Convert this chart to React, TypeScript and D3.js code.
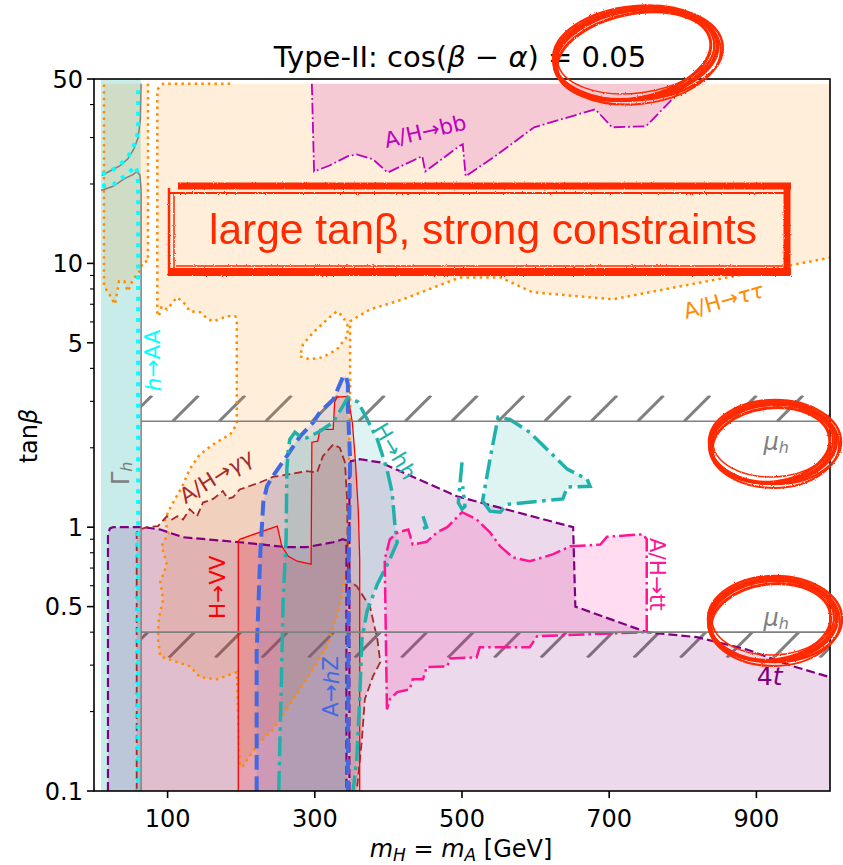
import React from 'react';
import * as d3 from 'd3';

type P = [number, number];

// ---------------- axis data ----------------
const xTickValues = [100, 300, 500, 700, 900];
const yTickValues = [0.1, 0.5, 1, 5, 10, 50];
const yTickLabels = ['0.1', '0.5', '1', '5', '10', '50'];
const yMinorValues = [0.2, 0.3, 0.4, 0.6, 0.7, 0.8, 0.9, 2, 3, 4, 6, 7, 8, 9, 20, 30, 40];

// ---------------- constraint contours [mH=mA (GeV), tanβ] ----------------
const gammaStrip: [number, number] = [9.5, 63.5];
const hAAUpper: P[] = [[11, 21.8], [24, 22.5], [35, 23.6], [46, 25.3], [53, 27.4], [58, 29.8], [60, 32], [60, 48]];
const hAALower: P[] = [[11, 19.6], [26, 19.9], [38, 21.1], [46, 21.9], [56, 23.4], [59, 22.3], [60, 19.8], [60, 0.1]];
const gammaHUpper: P[] = [[10.5, 21.5], [21.7, 22.4], [35, 23.4], [46, 24.9], [54.5, 27.3], [60, 30], [63, 35.2], [64, 48]];
const gammaHLower: P[] = [[9.5, 18.9], [26, 19.6], [42, 21.0], [53, 21.7], [58, 22.3], [62.5, 21.6], [64, 19.0], [64, 0.1]];

const tautauMain: P[] = [[185, 48], [94, 48], [86, 45.7], [86, 6.5], [88, 6.3], [92, 6.88], [99, 6.69], [113, 7.44], [124, 7.0], [130, 6.59], [144, 6.53], [155, 6.14], [162, 6.03], [181, 6.3], [192, 6.3], [194, 6.14], [194, 2.46], [185, 2.25], [162, 2.06], [144, 1.89], [130, 1.66], [120, 1.43], [106, 1.22], [96, 1.07], [101, 0.95], [92, 0.85], [99, 0.72], [90, 0.62], [94, 0.533], [88, 0.45], [87, 0.376], [90, 0.324], [130, 0.297], [144, 0.27], [167, 0.265], [194, 0.282], [198, 0.124], [202, 0.124], [221, 0.148], [243, 0.171], [262, 0.204], [289, 0.265], [317, 0.354], [334, 0.5], [345, 0.736], [346, 1.52], [348, 3.05], [348, 6.03], [357, 6.25], [375, 6.69], [420, 7.31], [497, 8.85], [552, 8.85], [596, 7.77], [705, 7.31], [868, 8.93], [1000, 10.5]];
const tautauMainClose: P[] = [[1000, 48]];
const tautauHole: P[] = [[280, 4.44], [293, 4.33], [311, 4.41], [330, 4.72], [344, 5.29], [345, 5.77], [338, 6.3], [330, 6.58], [317, 6.14], [298, 5.48], [284, 4.93]];
const tautauLeft: P[] = [[73.4, 48], [73.4, 10.2], [66.6, 10.1], [61, 9.25], [53, 8.7], [46, 7.83], [41, 8.55], [34, 8.55], [28.5, 7.0], [21.7, 7.57], [13.6, 8.19], [13.6, 48]];

const bbRegion: P[] = [[296, 48], [299, 22.3], [320, 23.5], [345, 25.5], [357, 25.9], [379, 24.8], [399, 22.1], [446, 25.5], [450, 22.3], [496, 27.8], [501, 28.3], [505, 21.4], [545, 25.5], [598, 32.8], [681, 38.4], [704, 32.8], [750, 33.1], [806, 48]];

const fourTLeft: P[] = [[19, 0.1], [19, 0.94], [21.7, 0.99], [26, 1.0], [67, 1.0], [90, 0.98], [121, 0.916], [198, 0.877], [262, 0.84], [289, 0.84], [325, 0.877], [338, 0.9], [343, 0.89], [343, 0.1]];
const fourTRight: P[] = [[347, 0.1], [347, 1.7], [349, 1.78], [361, 1.81], [389, 1.76], [493, 1.31], [651, 1.0], [654, 0.5], [751, 0.4], [819, 0.383], [887, 0.344], [950, 0.297], [1000, 0.27]];
const fourTRightClose: P[] = [[1000, 0.1]];

const hVVRegion: P[] = [[196, 0.1], [196, 0.885], [198, 0.9], [249, 1.01], [255, 0.85], [264, 0.776], [276, 0.743], [295, 0.724], [296, 2.1], [304, 2.12], [307, 2.35], [325, 2.35], [327, 2.98], [330, 3.11], [345, 3.13], [351, 2.5], [355, 1.81], [359, 1.17], [361, 0.756], [361, 0.1]];

const gagaRegion: P[] = [[58, 0.1], [58, 0.956], [62.5, 0.98], [72, 1.0], [87, 1.01], [99, 1.1], [106, 1.07], [113, 1.1], [121, 1.07], [130, 1.17], [140, 1.1], [148, 1.24], [162, 1.28], [175, 1.37], [182, 1.28], [189, 1.3], [198, 1.39], [226, 1.48], [243, 1.55], [266, 1.59], [289, 1.63], [303, 1.61], [311, 1.86], [325, 2.06], [334, 2.0], [341, 1.76], [344, 1.24], [345, 0.635], [357, 0.597], [375, 0.5], [385, 0.376], [389, 0.308], [379, 0.272], [368, 0.223], [364, 0.157], [357, 0.1]];

const hZRegion: P[] = [[221, 0.1], [221, 0.336], [226, 0.8], [230, 1.24], [235, 1.43], [243, 1.56], [262, 1.86], [280, 2.21], [298, 2.5], [307, 2.73], [325, 3.05], [334, 3.48], [338, 3.7], [342, 3.76], [345, 3.48], [345, 2.8], [348, 1.81], [346, 0.756], [345, 0.1]];

const hhMain: P[] = [[251, 0.1], [254, 0.223], [257, 0.533], [261, 0.9], [262, 1.66], [264, 1.97], [266, 2.15], [273, 2.29], [280, 2.21], [289, 2.18], [307, 2.31], [325, 2.5], [338, 2.87], [345, 3.11], [359, 2.98], [371, 2.57], [385, 2.15], [398, 1.66], [405, 1.36], [409, 1.01], [412, 0.876], [402, 0.756], [385, 0.608], [371, 0.48], [364, 0.376], [361, 0.223], [357, 0.132], [352, 0.1]];
const hhLobe: P[] = [[538, 1.15], [528, 1.26], [538, 1.81], [549, 2.61], [565, 2.56], [592, 2.29], [643, 1.66], [670, 1.52], [674, 1.43], [643, 1.42], [637, 1.28], [561, 1.22], [552, 1.14]];
const hhSpike: P[] = [[500, 1.76], [497, 1.43], [495, 1.24], [500, 1.17], [504, 1.2], [501, 1.43]];
const hhHook: P[] = [[447, 1.1], [452, 1.0], [447, 0.99]];

const ttRegion: P[] = [[398, 0.204], [395, 0.756], [402, 0.9], [413, 0.956], [427, 0.98], [429, 0.94], [433, 0.86], [452, 0.88], [466, 0.956], [480, 1.0], [500, 1.14], [520, 1.07], [538, 0.956], [552, 0.846], [569, 0.769], [592, 0.743], [624, 0.79], [647, 0.846], [688, 0.86], [697, 0.92], [746, 0.94], [751, 0.9], [751, 0.4], [602, 0.386], [592, 0.351], [524, 0.351], [520, 0.321], [484, 0.318], [480, 0.297], [452, 0.295], [447, 0.265], [433, 0.265], [429, 0.243], [412, 0.237], [402, 0.223]];

// μ_h bands: [line value, hatch edge]
const muBands: [number, number][] = [[2.52, 3.16], [0.4, 0.32]];
const muStartMass = 64;

const RED = '#ff2a00';

// scribble ellipses: [cx, cy, rx, ry, rotation]
const scribbles: number[][] = [[636, 54, 82, 45, -8], [773, 443, 63, 40, -3], [773, 620, 64, 41, -3]];
const scribbleOffsets: number[][] = [[0, 0, 0, 0, 0, 4], [-2, 2, -4, -3, -4, 3], [2, -1, 3, 2, 3, 2.5], [-1, 1, -2, -1, -2, 2], [1, 2, 2, 3, 2, 2], [0, -2, -3, -4, 1, 1.5]];

export default function App() {
  const x = d3.scaleLinear().domain([0, 1000]).range([94, 830]);
  const y = d3.scaleLog().domain([0.1, 50]).range([791, 79]);
  const line = d3.line<P>().x(d => x(d[0])).y(d => y(d[1]));
  const fillPath = (pts: P[], close: P[] = []) => (line([...pts, ...close]) as string) + 'Z';
  const [x0, x1] = x.range();
  const [yb, yt] = y.range();

  type Reg = { pts: P[]; close?: P[]; color: string; op: number; dash: string; w: number; closed?: boolean; hole?: P[] };
  const regions: Reg[] = [
    { pts: tautauMain, close: tautauMainClose, color: '#ff8c00', op: 0.15, dash: '2.5 4.1', w: 2.5, hole: tautauHole },
    { pts: tautauLeft, color: '#ff8c00', op: 0.15, dash: '2.5 4.1', w: 2.5 },
    { pts: bbRegion, color: '#bf00bf', op: 0.15, dash: '11.5 2.9 1.8 2.9', w: 1.8 },
    { pts: fourTLeft, color: '#800080', op: 0.15, dash: '9 4', w: 2.2 },
    { pts: fourTRight, close: fourTRightClose, color: '#800080', op: 0.15, dash: '9 4', w: 2.2 },
    { pts: gagaRegion, color: '#a52a2a', op: 0.15, dash: '8 4', w: 1.8 },
    { pts: hVVRegion, color: '#ff0000', op: 0.15, dash: '', w: 1.3 },
    { pts: hZRegion, color: '#4169e1', op: 0.15, dash: '14.8 6.4', w: 4 },
    { pts: hhMain, color: '#20b2aa', op: 0.15, dash: '20 5.6 3.5 5.6', w: 3.5 },
    { pts: hhLobe, color: '#20b2aa', op: 0.15, dash: '20 5.6 3.5 5.6', w: 3.5, closed: true },
    { pts: ttRegion, color: '#ff1493', op: 0.15, dash: '16 4 2.5 4', w: 2.5, closed: true },
  ];

  // hatch lines for the μ_h bands
  const hatch: JSX.Element[] = [];
  muBands.forEach(([lv, hv], bi) => {
    const ya = y(lv), yh = y(hv);
    const top = Math.min(ya, yh), bot = Math.max(ya, yh);
    for (let k = -30; k < 40; k++) {
      const C = 594 + 46.5 * k;
      const xa = C - bot, xb = C - top;
      if (xb < x(muStartMass) - 40 || xa > x1 + 40) continue;
      hatch.push(<line key={`h${bi}-${k}`} x1={xa} y1={bot} x2={xb} y2={top} stroke="#808080" strokeWidth={3} clipPath={`url(#band${bi})`} />);
    }
  });

  const lab = (m: number, t: number, rot: number) => `translate(${x(m)},${y(t)}) rotate(${rot})`;

  return (
    <div style={{ position: 'absolute', left: 0, top: 0 }}>
      <svg width={843} height={865} style={{ display: 'block', fontFamily: 'DejaVu Sans' }}>
        <defs>
          <clipPath id="plot"><rect x={x0} y={yt} width={x1 - x0} height={yb - yt} /></clipPath>
          {muBands.map(([lv, hv], bi) => {
            const top = Math.min(y(lv), y(hv)), bot = Math.max(y(lv), y(hv));
            return <clipPath key={bi} id={`band${bi}`}><rect x={x(muStartMass)} y={top} width={x1 - x(muStartMass)} height={bot - top} /></clipPath>;
          })}
          <filter id="rough" x="-10%" y="-10%" width="120%" height="120%">
            <feTurbulence type="fractalNoise" baseFrequency="0.9" numOctaves={1} seed={3} result="n" />
            <feDisplacementMap in="SourceGraphic" in2="n" scale={2.5} />
          </filter>
        </defs>
        <rect x={0} y={0} width={843} height={865} fill="#fff" />

        <g clipPath="url(#plot)">
          {hatch}
          {/* Γ_h / h→AA strip */}
          <rect x={x(gammaStrip[0])} y={yt} width={x(gammaStrip[1]) - x(gammaStrip[0])} height={yb - yt} fill="#20b2aa" fillOpacity={0.25} />
          {regions.map((r, i) => (
            <path key={`f${i}`} d={fillPath(r.pts, r.close) + (r.hole ? fillPath(r.hole) : '')} fill={r.color} fillOpacity={r.op} fillRule="evenodd" stroke="none" />
          ))}
          {regions.map((r, i) => (
            <g key={`l${i}`}>
              <path d={(line(r.pts) as string) + (r.closed ? 'Z' : '')} fill="none" stroke={r.color} strokeWidth={r.w} strokeDasharray={r.dash || undefined} />
              {r.hole && <path d={fillPath(r.hole)} fill="none" stroke={r.color} strokeWidth={r.w} strokeDasharray={r.dash} />}
            </g>
          ))}
          <path d={line(hhSpike) as string} fill="none" stroke="#20b2aa" strokeWidth={3.5} strokeDasharray="20 5.6 3.5 5.6" />
          <path d={line(hhHook) as string} fill="none" stroke="#20b2aa" strokeWidth={3.5} />
          <path d={line(gammaHUpper) as string} fill="none" stroke="#808080" strokeWidth={1.5} />
          <path d={line(gammaHLower) as string} fill="none" stroke="#808080" strokeWidth={1.5} />
          <path d={line(hAAUpper) as string} fill="none" stroke="#00ffff" strokeWidth={4} strokeDasharray="4 6.7" />
          <path d={line(hAALower) as string} fill="none" stroke="#00ffff" strokeWidth={4} strokeDasharray="4 6.7" />
          {muBands.map(([lv], bi) => (
            <line key={`mu${bi}`} x1={x(muStartMass)} x2={x1} y1={y(lv)} y2={y(lv)} stroke="#808080" strokeWidth={1.6} />
          ))}
        </g>

        {/* region labels */}
        <g fontSize={21.5}>
          <text transform={lab(450, 31.7, -13)} textAnchor="middle" dominantBaseline="central" fill="#bf00bf">A/H→bb</text>
          <text transform={lab(855, 7.23, -16)} textAnchor="middle" dominantBaseline="central" fill="#ff8c00">A/H→<tspan fontStyle="italic">ττ</tspan></text>
          <text transform={lab(80, 4.29, -90)} textAnchor="middle" dominantBaseline="central" fill="#00ffff"><tspan fontStyle="italic">h</tspan>→AA</text>
          <text transform={lab(37, 1.6, -90)} textAnchor="middle" dominantBaseline="central" fill="#808080" fontSize={24}>Γ<tspan fontSize={16} fontStyle="italic" dy={5}>h</tspan></text>
          <text transform={lab(166, 1.56, -32)} textAnchor="middle" dominantBaseline="central" fill="#a52a2a">A/H→<tspan fontStyle="italic">γγ</tspan></text>
          <text transform={lab(168, 0.592, -90)} textAnchor="middle" dominantBaseline="central" fill="#ff0000">H→VV</text>
          <text transform={lab(322, 0.249, -90)} textAnchor="middle" dominantBaseline="central" fill="#4169e1">A→<tspan fontStyle="italic">h</tspan>Z</text>
          <text transform={lab(409, 1.94, 59)} textAnchor="middle" dominantBaseline="central" fill="#20b2aa">H→hh</text>
          <text transform={lab(766, 0.663, 90)} textAnchor="middle" dominantBaseline="central" fill="#ff1493">A/H→tt</text>
          <text transform={lab(927, 2.1, 0)} textAnchor="middle" dominantBaseline="central" fill="#808080" fontSize={24}><tspan fontStyle="italic">μ</tspan><tspan fontStyle="italic" fontSize={16} dy={5}>h</tspan></text>
          <text transform={lab(927, 0.452, 0)} textAnchor="middle" dominantBaseline="central" fill="#808080" fontSize={24}><tspan fontStyle="italic">μ</tspan><tspan fontStyle="italic" fontSize={16} dy={5}>h</tspan></text>
          <text transform={lab(918, 0.272, 0)} textAnchor="middle" dominantBaseline="central" fill="#800080" fontSize={25}>4<tspan fontStyle="italic">t</tspan></text>
        </g>

        {/* axes */}
        <rect x={x0} y={yt} width={x1 - x0} height={yb - yt} fill="none" stroke="#000" strokeWidth={1.6} />
        {xTickValues.map(v => (
          <g key={`xt${v}`}>
            <line x1={x(v)} x2={x(v)} y1={yb} y2={yb + 7} stroke="#000" strokeWidth={1.6} />
            <text x={x(v)} y={yb + 36} textAnchor="middle" fontSize={24}>{v}</text>
          </g>
        ))}
        {yTickValues.map((v, i) => (
          <g key={`yt${v}`}>
            <line x1={x0 - 7} x2={x0} y1={y(v)} y2={y(v)} stroke="#000" strokeWidth={1.6} />
            <text x={x0 - 11} y={y(v) + 8.7} textAnchor="end" fontSize={24}>{yTickLabels[i]}</text>
          </g>
        ))}
        {yMinorValues.map(v => (
          <line key={`ym${v}`} x1={x0 - 4} x2={x0} y1={y(v)} y2={y(v)} stroke="#000" strokeWidth={1.1} />
        ))}
        <text x={461} y={857} textAnchor="middle" fontSize={24} style={{ whiteSpace: 'pre' }}>
          <tspan fontStyle="italic">m</tspan><tspan fontStyle="italic" fontSize={17} dy={4}>H</tspan><tspan dy={-4}> = </tspan><tspan fontStyle="italic">m</tspan><tspan fontStyle="italic" fontSize={17} dy={4}>A</tspan><tspan dy={-4}> [GeV]</tspan>
        </text>
        <text transform="translate(37,436) rotate(-90)" textAnchor="middle" fontSize={24}>tan<tspan fontStyle="italic">β</tspan></text>
        <text x={460} y={67} textAnchor="middle" fontSize={29}>
          {'Type-II: cos('}<tspan fontStyle="italic">β</tspan>{' \u2212 '}<tspan fontStyle="italic">α</tspan>{') = 0.05'}
        </text>

        {/* hand-drawn red annotations */}
        <g stroke={RED} fill="none" strokeLinecap="butt" filter="url(#rough)">
          <line x1={178} y1={186} x2={791} y2={186} strokeWidth={7} />
          <line x1={170} y1={193} x2={786} y2={193} strokeWidth={2} />
          <line x1={169} y1={188} x2={169} y2={276} strokeWidth={2.5} />
          <line x1={174} y1={192} x2={174} y2={272} strokeWidth={1.5} />
          <line x1={168} y1={272} x2={791} y2={272} strokeWidth={8} />
          <line x1={787} y1={183} x2={787} y2={276} strokeWidth={7} />
          <line x1={176} y1={266} x2={783} y2={266} strokeWidth={1.5} />
          {scribbles.map((s, si) => scribbleOffsets.map((o, oi) => (
            <ellipse key={`s${si}-${oi}`} transform={`translate(${s[0] + o[0]},${s[1] + o[1]}) rotate(${s[4] + o[4]})`} rx={s[2] + o[2]} ry={s[3] + o[3]} strokeWidth={o[5]} />
          )))}
        </g>
        <text x={209} y={244} fontFamily="Liberation Sans" fontSize={42} fill={RED} textLength={548} lengthAdjust="spacingAndGlyphs">large tanβ, strong constraints</text>
      </svg>
    </div>
  );
}
